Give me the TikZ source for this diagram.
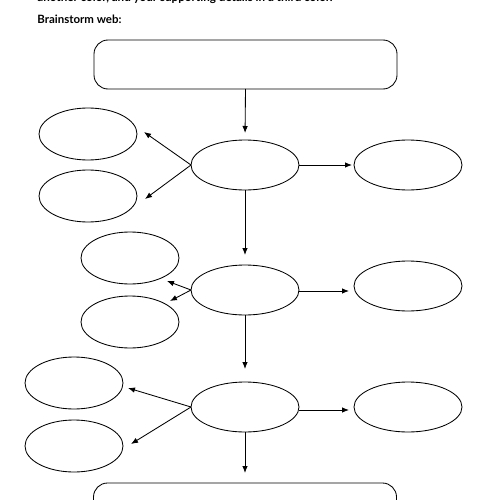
\documentclass[tikz,border=0pt]{standalone}
\usepackage{fontspec}
\setmainfont{Lato}
\usetikzlibrary{shapes.geometric,arrows.meta}
\begin{document}
\begin{tikzpicture}[x=1pt,y=-1pt,
  line width=0.85pt,
  conn/.style={-{Latex[length=7pt,width=5.5pt]}},
  mainell/.style={draw,ellipse,minimum width=108pt,minimum height=50pt,inner sep=0pt,outer sep=0pt},
  leftell/.style={draw,ellipse,minimum width=98pt,minimum height=52pt,inner sep=0pt,outer sep=0pt},
  rightell/.style={draw,ellipse,minimum width=108pt,minimum height=50pt,inner sep=0pt,outer sep=0pt},
  bigbox/.style={draw,rectangle,rounded corners=14pt,minimum width=303pt,minimum height=49pt,inner sep=0pt,outer sep=0pt},
  title/.style={anchor=base west,inner sep=0pt,font=\bfseries}
]
\useasboundingbox (0,0) rectangle (486,500);
\fill[white] (0,0) rectangle (486,500);
% texts
\node[title] (toptext) at (37,1.5) {\resizebox{295pt}{!}{another color, and your supporting details in a third color.}};
\node[title] (head) at (37,24) {\resizebox{84pt}{!}{Brainstorm web:}};
% boxes
\node[bigbox] (topbox) at (245.5,64.5) {};
\node[bigbox,minimum height=60pt] (botbox) at (245,513) {};
% main chain
\node[mainell] (c1) at (245,165) {};
\node[mainell] (c2) at (245,290) {};
\node[mainell] (c3) at (245,407) {};
% right
\node[rightell] (r1) at (408,165) {};
\node[rightell] (r2) at (408,286) {};
\node[rightell] (r3) at (408,407) {};
% left
\node[leftell] (a1) at (88,134) {};
\node[leftell] (b1) at (88,196) {};
\node[leftell] (a2) at (130,258) {};
\node[leftell] (b2) at (130,322) {};
\node[leftell] (a3) at (74,383) {};
\node[leftell] (b3) at (74,446) {};
% vertical connectors
\draw[conn,shorten >=7pt] (topbox.south) -- (c1.north);
\draw[conn,shorten >=10pt] (c1.south) -- (c2.north);
\draw[conn,shorten >=13pt] (c2.south) -- (c3.north);
\draw[conn,shorten >=10pt] (c3.south) -- (botbox.north);
% right connectors
\draw[conn,shorten >=2pt] (c1.east) -- (c1.east -| r1.west);
\draw[conn,shorten >=5pt] ([yshift=-1pt]c2.east) -- ([yshift=-1pt]c2.east -| r2.west);
\draw[conn,shorten >=5pt] ([yshift=-3pt]c3.east) -- ([yshift=-3pt]c3.east -| r3.west);
% left connectors
\draw[conn] (c1.west) -- ([shift={(56pt,2pt)}]a1.center);
\draw[conn] (c1.west) -- ([shift={(57pt,-3pt)}]b1.center);
\draw[conn] (c2.west) -- ([shift={(37pt,-23pt)}]a2.center);
\draw[conn] (c2.west) -- ([shift={(40pt,21pt)}]b2.center);
\draw[conn] (c3.west) -- ([shift={(54pt,-5pt)}]a3.center);
\draw[conn] (c3.west) -- ([shift={(57pt,2pt)}]b3.center);
\end{tikzpicture}
\end{document}
